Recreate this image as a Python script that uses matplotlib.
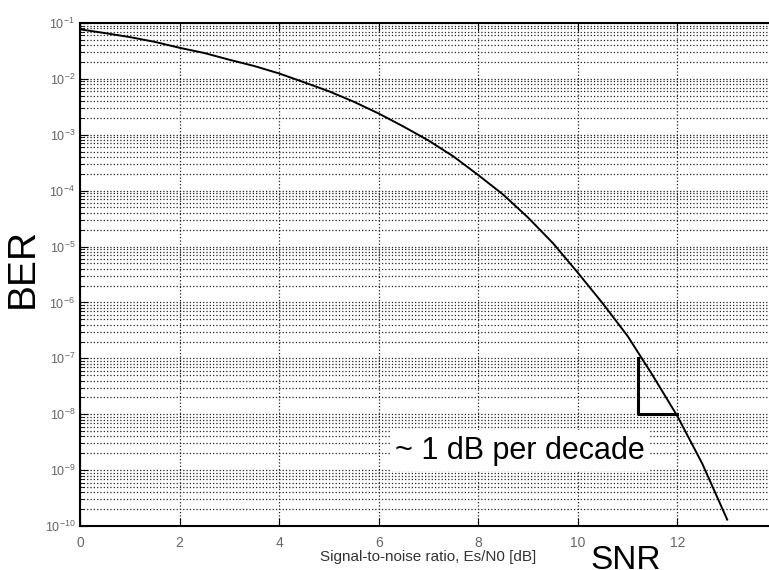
import numpy as np
import matplotlib.pyplot as plt
from matplotlib.ticker import LogLocator, NullFormatter

plt.rcParams['font.family'] = ['Liberation Sans', 'DejaVu Sans']
plt.rcParams['mathtext.fontset'] = 'custom'
plt.rcParams['mathtext.rm'] = 'Liberation Sans'
plt.rcParams['mathtext.it'] = 'Liberation Sans'

# BER curve (every 0.5 dB)
snr_db = [0, 0.5, 1, 1.5, 2, 2.5, 3, 3.5, 4, 4.5, 5, 5.5, 6, 6.5,
          7, 7.5, 8, 8.5, 9, 9.5, 10, 10.5, 11, 11.5, 12, 12.5, 13]
ber = [0.077, 0.066, 0.056, 0.046, 0.036, 0.029, 0.022, 0.017, 0.0125,
       0.0087, 0.006, 0.0039, 0.0024, 0.0014, 7.9e-4, 4.1e-4, 1.9e-4,
       8.5e-5, 3.3e-5, 1.15e-5, 3.4e-6, 9.6e-7, 2.5e-7, 5e-8, 9.2e-9,
       1.3e-9, 1.3e-10]

# slope triangle
tri_x = [11.2, 11.2, 12.0]
tri_y = [1e-7, 1e-8, 1e-8]

x_ticks = [0, 2, 4, 6, 8, 10, 12, 14]

fig = plt.figure(figsize=(7.69, 5.70), dpi=100)
ax = fig.add_axes([80 / 769, 44 / 570, 697 / 769, 503 / 570])

ax.semilogy(snr_db, ber, color='black', linewidth=1.4)
ax.plot(tri_x, tri_y, color='black', linewidth=2.2)

ax.set_xlim(0, 14)
ax.set_ylim(1e-10, 1e-1)
ax.set_xticks(x_ticks)
ax.yaxis.set_major_locator(LogLocator(base=10, numticks=20))
ax.yaxis.set_minor_locator(LogLocator(base=10, subs=np.arange(2, 10), numticks=20))
ax.yaxis.set_minor_formatter(NullFormatter())

ax.grid(True, which='major', axis='both', linestyle=':', color='#222222', linewidth=0.9)
ax.grid(True, which='minor', axis='y', linestyle=':', color='#222222', linewidth=0.9)

ax.tick_params(which='both', direction='in', top=True, right=True,
               labelsize=9, labelcolor='#666666')
ax.tick_params(which='major', length=6)
ax.tick_params(which='minor', length=3)
ax.tick_params(axis='x', pad=7, labelsize=10)
for s in ax.spines.values():
    s.set_linewidth(1.5)

ax.text(8.84, 2.2e-9, '~ 1 dB per decade', fontsize=22, ha='center', va='center',
        bbox=dict(facecolor='white', edgecolor='none', pad=4))

fig.text(428 / 769, 1 - 557 / 570, 'Signal-to-noise ratio, Es/N0 [dB]',
         fontsize=11, color='#333333', ha='center', va='center')
fig.text(626 / 769, 1 - 569 / 570, 'SNR', fontsize=24, ha='center', va='baseline')
fig.text(23 / 769, 1 - 268 / 570, 'BER', fontsize=28, ha='center', va='center',
         rotation=90)

fig.savefig('out.png', dpi=100)
